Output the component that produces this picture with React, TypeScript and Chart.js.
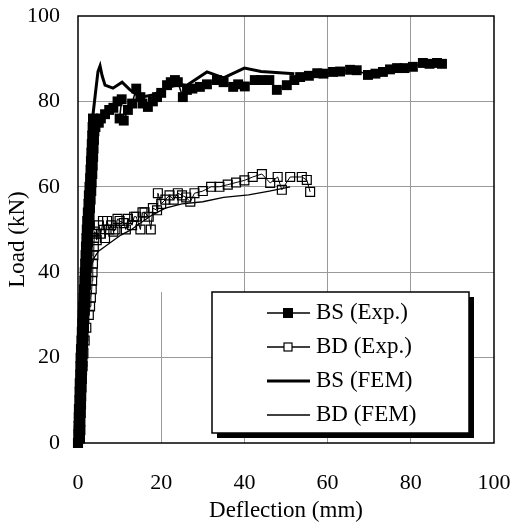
import React, { useEffect, useRef } from "react";
import { Chart, registerables } from "chart.js";

Chart.register(...registerables);

const FONT = '"Liberation Serif", "Times New Roman", serif';
const GRID = "#9a9a9a";

// Axis ticks
const xTicks = [0, 20, 40, 60, 80, 100];
const yTicks = [0, 20, 40, 60, 80, 100];

// BS (Exp.)
const bsExpX = [
  0, 0.5, 0.05, 0.6, 0.1, 0.6, 0.15, 0.7, 0.2, 0.75, 0.3, 0.8, 0.35, 0.9, 0.4, 0.95, 0.5, 1.0, 0.55, 1.1,
  0.6, 1.15, 0.7, 1.25, 0.8, 1.35, 0.9, 1.45, 1.0, 1.55, 1.1, 1.65, 1.2, 1.75, 1.3, 1.85, 1.4, 1.95, 1.5, 2.05,
  1.6, 2.15, 1.7, 2.25, 1.8, 2.35, 1.9, 2.45, 2.0, 2.55, 2.1, 2.65, 2.2, 2.8, 2.35, 2.9, 2.5, 3.05, 2.6, 3.2,
  2.75, 3.3, 2.9, 3.45, 3.0, 3.55, 3.1, 3.65, 3.2, 3.75, 3.3, 3.85, 3.4, 3.95, 3.5, 4.05, 3.6,
  4.2, 5.0, 5.5, 6.5, 7.5, 8.5, 9.5, 10.5, 10.0, 11.0, 12.0, 13.0, 14.0, 15.0, 15.5, 16.8, 18.0, 19.0,
  20.0, 21.4, 22.3, 23.3, 24.0, 25.2, 26.2, 27.5, 29.3, 31.0, 33.4, 35.0, 37.3, 38.5, 40.1, 42.5, 44.0,
  46.0, 47.8, 50.2, 52.0, 53.4, 55.5, 57.5, 59.0, 61.3, 63.0, 65.4, 67.0, 69.7, 71.5, 73.3, 75.0, 76.7,
  78.5, 80.5, 82.9, 84.5, 86.3, 87.5,
];
const bsExpY = [
  0, 1, 2, 3, 4, 5, 6, 7, 8, 9, 10, 11, 12, 13, 14, 15, 16, 17, 18, 19,
  20, 21, 22, 23, 24, 25, 26, 27, 28, 29, 30, 31, 32, 33, 34, 35, 36, 37, 38, 39,
  40, 41, 42, 43, 44, 45, 46, 47, 48, 49, 50, 51, 52, 53, 54, 55, 56, 57, 58, 59,
  60, 61, 62, 63, 64, 65, 66, 67, 68, 69, 70, 71, 72, 73, 74, 75, 76,
  74, 75, 76, 77, 78, 78.5, 80, 80.5, 76, 75.5, 78, 79.5, 83, 81, 79.5, 78.7, 80, 81,
  82, 83.8, 84.5, 85, 84.5, 81, 82.7, 83, 83.4, 84, 85, 84.5, 83.4, 84, 83.5, 85, 85,
  85, 82.7, 83.8, 85, 85.7, 86, 86.6, 86.5, 86.9, 87, 87.4, 87.3, 86.2, 86.5, 86.9, 87.5, 87.8,
  87.8, 88.1, 89, 88.8, 89, 88.8,
];

// BD (Exp.)
const bdExpX = [
  0, 0.2, 0.35, 0.5, 0.7, 0.9, 1.1, 1.3, 1.6, 2.0, 2.6, 2.9, 3.1, 3.3, 3.4, 3.5, 3.6, 3.7, 3.8, 3.9, 4.0,
  4.3, 4.5, 5, 5.5, 6, 6.5, 7, 7.5, 8, 8.5, 9, 9.5, 10, 11, 11.5, 12, 13, 13.5, 14, 15,
  15.5, 16, 17, 17.5, 18, 19, 19.2, 20, 21, 22, 23, 24, 25, 26, 27, 28, 30, 32, 34, 36,
  38, 40, 42, 44.2, 46.2, 48, 49, 51, 53.8, 55, 55.8,
];
const bdExpY = [
  0, 3, 6, 9, 12, 15, 18, 21, 24, 27, 30, 32, 34, 36, 38, 40, 42, 44, 46, 48, 49.5,
  49, 47.5, 51, 49, 52, 48, 52, 50, 51, 49.5, 50, 52.5, 52, 51.5, 50, 52.5, 51, 53, 53, 50,
  54, 54, 53, 50, 55, 54.5, 58.5, 56, 57, 58, 57, 58.5, 58, 57.5, 56.5, 58.5, 59, 60, 60, 60.5,
  61, 61.5, 62.3, 63, 60.9, 62.3, 59.3, 62.3, 62.3, 61.6, 58.8,
];

// BS (FEM)
const bsFemX = [0, 0.5, 1, 1.5, 2, 2.5, 3, 3.5, 4.2, 4.8, 5.3, 5.8, 6.5, 8.4, 10.6, 12.5, 15, 18, 21, 24, 26.2, 31, 35, 40, 44, 52];
const bsFemY = [0, 15, 30, 45, 58, 68, 74, 76, 82, 87, 88.3, 86, 83.8, 83.1, 84.5, 82.7, 81, 81.5, 83, 84, 83.8, 86.9, 85.5, 87.8, 87, 86.5];

// BD (FEM)
const bdFemX = [0, 0.5, 1, 1.5, 2, 3, 4, 5, 6.5, 7.9, 10.3, 12.7, 15, 18, 21, 25, 30, 35, 41, 46, 51];
const bdFemY = [0, 12, 24, 32, 37, 41, 43.6, 45, 46, 47, 48.7, 49.9, 51.5, 53.5, 55, 56, 56.5, 57.5, 58.1, 59, 60];

const seriesNames = ["BS (Exp.)", "BD (Exp.)", "BS (FEM)", "BD (FEM)"];

const zip = (xs: number[], ys: number[]) => xs.map((x, i) => ({ x, y: ys[i] }));

const decor = {
  id: "decor",
  beforeDatasetsDraw(chart: any) {
    const { ctx, chartArea: ca, scales } = chart;
    ctx.save();
    // partial grid line at x = 20 (only below legend top)
    const gx = Math.round(scales.x.getPixelForValue(20)) + 0.5;
    const legTop = ca.top + 276;
    ctx.strokeStyle = GRID;
    ctx.lineWidth = 1;
    ctx.beginPath();
    ctx.moveTo(gx, legTop);
    ctx.lineTo(gx, ca.bottom);
    ctx.stroke();
    // frame
    ctx.strokeStyle = "#000";
    ctx.lineWidth = 1.5;
    ctx.strokeRect(ca.left, ca.top, ca.right - ca.left, ca.bottom - ca.top);
    // y title
    ctx.translate(18, (ca.top + ca.bottom) / 2 + 10);
    ctx.rotate(-Math.PI / 2);
    ctx.font = `23px ${FONT}`;
    ctx.textAlign = "center";
    ctx.textBaseline = "middle";
    ctx.fillStyle = "#000";
    ctx.fillText("Load (kN)", 0, 0);
    ctx.restore();
  },
  afterDatasetsDraw(chart: any) {
    const { ctx, chartArea: ca } = chart;
    const left = ca.left + 134;
    const top = ca.top + 276;
    const w = 257;
    const h = 141;
    ctx.save();
    ctx.fillStyle = "#000";
    ctx.fillRect(left + 5, top + 5, w, h);
    ctx.fillStyle = "#fff";
    ctx.fillRect(left, top, w, h);
    ctx.strokeStyle = "#000";
    ctx.lineWidth = 1.5;
    ctx.strokeRect(left, top, w, h);
    const lineW = [1.5, 1.5, 3, 1.5];
    ctx.font = `23px ${FONT}`;
    ctx.textBaseline = "middle";
    ctx.textAlign = "left";
    seriesNames.forEach((name, i) => {
      const yy = top + 21 + i * 34;
      ctx.strokeStyle = "#000";
      ctx.lineWidth = lineW[i];
      ctx.beginPath();
      ctx.moveTo(left + 55, yy);
      ctx.lineTo(left + 98, yy);
      ctx.stroke();
      const cx = left + 76;
      if (i === 0) {
        ctx.fillStyle = "#000";
        ctx.fillRect(cx - 5, yy - 5, 10, 10);
      } else if (i === 1) {
        ctx.fillStyle = "#fff";
        ctx.fillRect(cx - 4, yy - 4, 8, 8);
        ctx.lineWidth = 1.2;
        ctx.strokeRect(cx - 4, yy - 4, 8, 8);
      }
      ctx.fillStyle = "#000";
      ctx.fillText(name, left + 104, yy);
    });
    ctx.restore();
  },
};

export default function App() {
  const ref = useRef<HTMLCanvasElement>(null);
  useEffect(() => {
    if (!ref.current) return;
    const chart = new Chart(ref.current, {
      type: "scatter",
      data: {
        datasets: [
          {
            label: seriesNames[0],
            data: zip(bsExpX, bsExpY),
            showLine: true,
            borderColor: "#000",
            borderWidth: 1.5,
            backgroundColor: "#000",
            pointStyle: "rect",
            pointRadius: 7,
            pointBackgroundColor: "#000",
            pointBorderColor: "#000",
            pointBorderWidth: 0,
            clip: false,
          },
          {
            label: seriesNames[1],
            data: zip(bdExpX, bdExpY),
            showLine: true,
            borderColor: "#000",
            borderWidth: 1,
            pointStyle: "rect",
            pointRadius: 6.3,
            pointBackgroundColor: "rgba(0,0,0,0)",
            pointBorderColor: "#000",
            pointBorderWidth: 1.2,
            clip: false,
          },
          {
            label: seriesNames[2],
            data: zip(bsFemX, bsFemY),
            showLine: true,
            borderColor: "#000",
            borderWidth: 3,
            pointRadius: 0,
            clip: false,
          },
          {
            label: seriesNames[3],
            data: zip(bdFemX, bdFemY),
            showLine: true,
            borderColor: "#000",
            borderWidth: 1.3,
            pointRadius: 0,
            clip: false,
          },
        ],
      },
      options: {
        animation: false,
        responsive: false,
        devicePixelRatio: 1,
        layout: { padding: { left: 0, top: 16, right: 20, bottom: 0 } },
        plugins: { legend: { display: false }, tooltip: { enabled: false } },
        scales: {
          x: {
            type: "linear",
            min: 0,
            max: 100,
            afterBuildTicks: (s: any) => {
              s.ticks = xTicks.map((v) => ({ value: v }));
            },
            afterFit: (s: any) => {
              s.height = 82;
              s.paddingLeft = 0;
              s.paddingRight = 0;
              s.paddingTop = 0;
              s.paddingBottom = 0;
            },
            ticks: { color: "#000", font: { family: FONT, size: 22 }, padding: 27, maxRotation: 0 },
            grid: {
              drawTicks: false,
              lineWidth: 1,
              color: (c: any) => (c.tick && (c.tick.value === 20 || c.tick.value === 0 || c.tick.value === 100) ? "rgba(0,0,0,0)" : GRID),
            },
            border: { display: false },
            title: {
              display: true,
              text: "Deflection (mm)",
              color: "#000",
              font: { family: FONT, size: 23 },
              padding: { top: 0, bottom: 0 },
            },
          },
          y: {
            type: "linear",
            min: 0,
            max: 100,
            afterBuildTicks: (s: any) => {
              s.ticks = yTicks.map((v) => ({ value: v }));
            },
            afterFit: (s: any) => {
              s.width = 78;
              s.paddingLeft = 0;
              s.paddingRight = 0;
              s.paddingTop = 0;
              s.paddingBottom = 0;
            },
            ticks: { color: "#000", font: { family: FONT, size: 22 }, padding: 18 },
            grid: {
              drawTicks: false,
              lineWidth: 1,
              color: (c: any) => (c.tick && (c.tick.value === 0 || c.tick.value === 100) ? "rgba(0,0,0,0)" : GRID),
            },
            border: { display: false },
          },
        },
      },
      plugins: [decor],
    } as any);
    return () => chart.destroy();
  }, []);
  return (
    <div style={{ position: "absolute", left: 0, top: 0, width: 514, height: 525, background: "#fff" }}>
      <canvas ref={ref} width={514} height={525} style={{ display: "block", width: 514, height: 525 }} />
    </div>
  );
}
